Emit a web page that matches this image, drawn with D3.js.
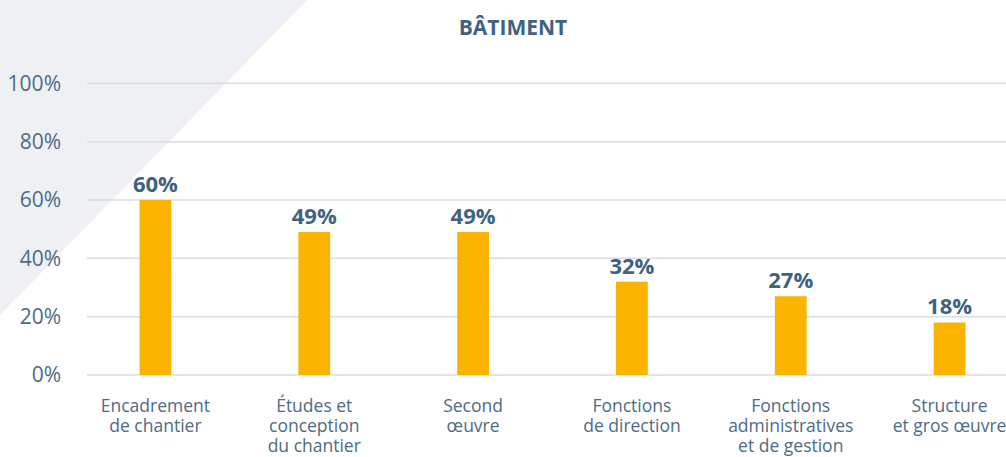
<!DOCTYPE html>
<html>
<head>
<meta charset="utf-8">
<script src="https://cdn.jsdelivr.net/npm/d3@7"></script>
<style>
  body { margin: 0; background: #fff; }
  text { font-family: "Open Sans", sans-serif; }
</style>
</head>
<body>
<div id="chart"></div>
<script>
var categories = [
    ["Encadrement", "de chantier"],
    ["Études et", "conception", "du chantier"],
    ["Second", "œuvre"],
    ["Fonctions", "de direction"],
    ["Fonctions", "administratives", "et de gestion"],
    ["Structure", "et gros œuvre"]
];
var values = [60, 49, 49, 32, 27, 18];
var yTicks = [0, 20, 40, 60, 80, 100];
var title = "BÂTIMENT";

var svgWidth = 1006;
var svgHeight = 457;

var svg = d3.select("#chart")
    .append("svg")
    .attr("width", svgWidth)
    .attr("height", svgHeight);

// light corner triangle
svg.append("polygon")
    .attr("points", "0,0 307,0 0,315")
    .attr("fill", "#eef0f4");

var xScale = d3.scaleBand()
    .domain(d3.range(categories.length))
    .range([76, 1029])
    .paddingInner(0.8)
    .paddingOuter(0.4);

var yScale = d3.scaleLinear()
    .domain([0, 100])
    .range([375, 83.3]);

// gridlines
svg.append("g")
    .selectAll("line")
    .data(yTicks)
    .enter()
    .append("line")
    .attr("x1", 87)
    .attr("x2", svgWidth)
    .attr("y1", d => yScale(d))
    .attr("y2", d => yScale(d))
    .attr("stroke", "#d9dde6")
    .attr("stroke-width", 1.5);

// y labels
var leftAxis = d3.axisLeft(yScale)
    .tickValues(yTicks)
    .tickFormat(d => d + "%")
    .tickSize(0)
    .tickPadding(0);

var yAxisG = svg.append("g")
    .attr("transform", "translate(61, 0)")
    .call(leftAxis);
yAxisG.select(".domain").remove();
yAxisG.selectAll("text")
    .attr("fill", "#4d6b86")
    .style("font-size", "21px")
    .style("font-family", "Open Sans, sans-serif");

// bars
svg.append("g")
    .selectAll("rect")
    .data(values)
    .enter()
    .append("rect")
    .attr("x", (d, i) => xScale(i))
    .attr("y", d => yScale(d))
    .attr("width", xScale.bandwidth())
    .attr("height", d => yScale(0) - yScale(d))
    .attr("fill", "#fab300");

// value labels
svg.append("g")
    .selectAll("text")
    .data(values)
    .enter()
    .append("text")
    .attr("x", (d, i) => xScale(i) + xScale.bandwidth() / 2)
    .attr("y", d => yScale(d) - 8)
    .attr("text-anchor", "middle")
    .attr("fill", "#3f6281")
    .style("font-size", "22px")
    .style("font-weight", "bold")
    .text(d => d + "%");

// category labels
var catG = svg.append("g")
    .selectAll("text")
    .data(categories)
    .enter()
    .append("text")
    .attr("x", (d, i) => xScale(i) + xScale.bandwidth() / 2)
    .attr("y", 412)
    .attr("text-anchor", "middle")
    .attr("fill", "#4d6b86")
    .style("font-size", "17.5px");

catG.selectAll("tspan")
    .data(d => d)
    .enter()
    .append("tspan")
    .attr("x", function() { return d3.select(this.parentNode).attr("x"); })
    .attr("dy", (d, i) => i === 0 ? 0 : 20)
    .text(d => d);

// title
svg.append("text")
    .attr("x", 513)
    .attr("y", 35)
    .attr("text-anchor", "middle")
    .attr("fill", "#3f6281")
    .style("font-size", "21px")
    .style("font-weight", "bold")
    .text(title);
</script>
</body>
</html>
